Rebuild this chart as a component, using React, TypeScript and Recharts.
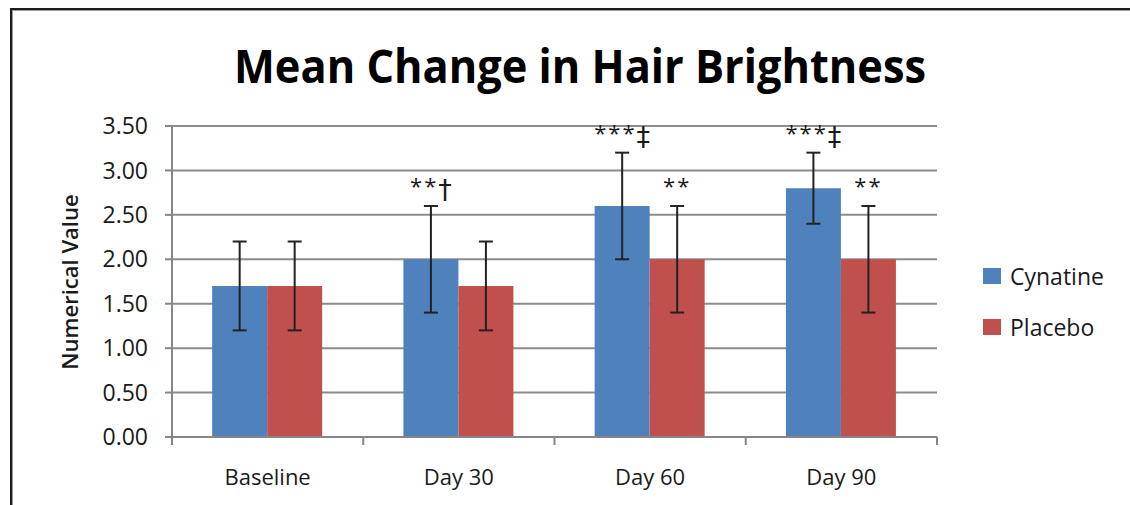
import React from 'react';
import { BarChart, Bar, XAxis, YAxis, CartesianGrid, ErrorBar, LabelList, Legend } from 'recharts';

const categories = ['Baseline', 'Day 30', 'Day 60', 'Day 90'];
const cynatine = [1.7, 2.0, 2.6, 2.8];
const placebo = [1.7, 1.7, 2.0, 2.0];
const cynatineErr = [0.5, 0.6, 0.6, 0.4];
const placeboErr = [0.5, 0.5, 0.6, 0.6];
const cynatineStars = ['', '**', '***', '***'];
const cynatineDaggers = ['', '\u2020', '\u2021', '\u2021'];
const placeboStars = ['', '', '**', '**'];
const placeboDaggers = ['', '', '', ''];
const yTicks = [0, 0.5, 1, 1.5, 2, 2.5, 3, 3.5];

const data = categories.map((name, i) => ({
  name,
  cyn: cynatine[i],
  plc: placebo[i],
  cynErr: cynatineErr[i],
  plcErr: placeboErr[i],
  cynMark: cynatineStars[i],
  plcMark: placeboStars[i],
}));

const FONT = '"Open Sans", "DejaVu Sans", sans-serif';
const TEXT = '#1a1a1a';

const makeMark = (values: number[], errs: number[], daggers: string[]) => (props: any) => {
  const { x, y, width, height, value, index } = props;
  if (!value) return null;
  const v = values[index];
  const pxPerUnit = Number(height) / v;
  const errTop = Number(y) - errs[index] * pxPerUnit;
  const dagger = daggers[index];
  return (
    <text
      x={Number(x) + Number(width) / 2}
      y={errTop - 12}
      textAnchor="middle"
      fontFamily={FONT}
      fill={TEXT}
    >
      <tspan fontSize={22} letterSpacing={2}>{value}</tspan>
      {dagger ? (
        <tspan fontSize={27} fontFamily='"DejaVu Sans", sans-serif' dy={5}>{dagger}</tspan>
      ) : null}
    </text>
  );
};

const XTick = (props: any) => {
  const { x, y, payload, width, index, visibleTicksCount } = props;
  const n = visibleTicksCount || categories.length;
  const cw = Number(width) / n;
  const axisY = Number(y);
  return (
    <g>
      <line x1={x - cw / 2} y1={axisY} x2={x - cw / 2} y2={axisY + 8} stroke="#868686" strokeWidth={2} />
      {index === n - 1 && (
        <line x1={x + cw / 2} y1={axisY} x2={x + cw / 2} y2={axisY + 8} stroke="#868686" strokeWidth={2} />
      )}
      <text x={x} y={axisY + 48} textAnchor="middle" fontFamily={FONT} fontSize={22} fill={TEXT}>
        {payload.value}
      </text>
    </g>
  );
};

const LegendContent = (props: any) => {
  const { payload } = props;
  return (
    <div>
      {(payload || []).map((entry: any) => (
        <div key={entry.value} style={{ display: 'flex', alignItems: 'center', height: 26, marginBottom: 25 }}>
          <span style={{ display: 'inline-block', width: 18, height: 16, background: entry.color }} />
          <span style={{ marginLeft: 9, fontFamily: FONT, fontSize: 23, color: TEXT, lineHeight: '26px' }}>
            {entry.value}
          </span>
        </div>
      ))}
    </div>
  );
};

export default function App() {
  return (
    <div style={{ position: 'absolute', left: 0, top: 0, width: 1130, height: 505, background: '#fff', overflow: 'hidden' }}>
      <div
        style={{
          position: 'absolute',
          left: 10,
          top: 8,
          width: 1130,
          height: 505,
          borderLeft: '2px solid #1e1e1e',
          borderTop: '2px solid #1e1e1e',
          boxShadow: 'inset 1px 1px 0 #9a9a9a',
        }}
      />
      <svg style={{ position: 'absolute', left: 0, top: 0 }} width={1130} height={110}>
        <text
          x={580}
          y={83}
          textAnchor="middle"
          fontFamily={FONT}
          fontWeight={700}
          fontSize={46}
          fill="#000"
          textLength={692}
          lengthAdjust="spacingAndGlyphs"
        >
          Mean Change in Hair Brightness
        </text>
      </svg>
      <div style={{ position: 'absolute', left: 0, top: 0 }}>
        <BarChart
          width={1130}
          height={505}
          data={data}
          margin={{ top: 126, right: 46, bottom: 38, left: 0 }}
          barCategoryGap="21%"
          barGap={0}
        >
          <CartesianGrid vertical={false} stroke="#8c8c8c" strokeWidth={2} />
          <XAxis
            dataKey="name"
            height={30}
            axisLine={{ stroke: '#868686', strokeWidth: 2 }}
            tickLine={false}
            tick={<XTick />}
            interval={0}
            tickSize={0}
            tickMargin={0}
          />
          <YAxis
            width={172}
            domain={[0, 3.5]}
            ticks={yTicks}
            interval={0}
            tickFormatter={(v: number) => v.toFixed(2)}
            axisLine={{ stroke: '#868686', strokeWidth: 2 }}
            tickLine={{ stroke: '#868686', strokeWidth: 2 }}
            tickSize={7}
            tickMargin={17}
            tick={{ fontFamily: FONT, fontSize: 23, fill: TEXT }}
            label={(p: any) => (
              <text
                x={69}
                y={282}
                transform="rotate(-90, 69, 282)"
                textAnchor="middle"
                dominantBaseline="central"
                fontFamily={FONT}
                fontWeight={600}
                fontSize={22}
                fill={TEXT}
              >
                Numerical Value
              </text>
            )}
          />
          <Legend
            layout="vertical"
            align="right"
            verticalAlign="top"
            content={<LegendContent />}
            wrapperStyle={{ left: 983, top: 263, width: 147 }}
          />
          <Bar dataKey="cyn" name="Cynatine" fill="#4f81bd" isAnimationActive={false}>
            <ErrorBar dataKey="cynErr" width={7} stroke="#222" strokeWidth={2} direction="y" />
            <LabelList dataKey="cynMark" content={makeMark(cynatine, cynatineErr, cynatineDaggers)} />
          </Bar>
          <Bar dataKey="plc" name="Placebo" fill="#c0504d" isAnimationActive={false}>
            <ErrorBar dataKey="plcErr" width={7} stroke="#222" strokeWidth={2} direction="y" />
            <LabelList dataKey="plcMark" content={makeMark(placebo, placeboErr, placeboDaggers)} />
          </Bar>
        </BarChart>
      </div>
    </div>
  );
}
